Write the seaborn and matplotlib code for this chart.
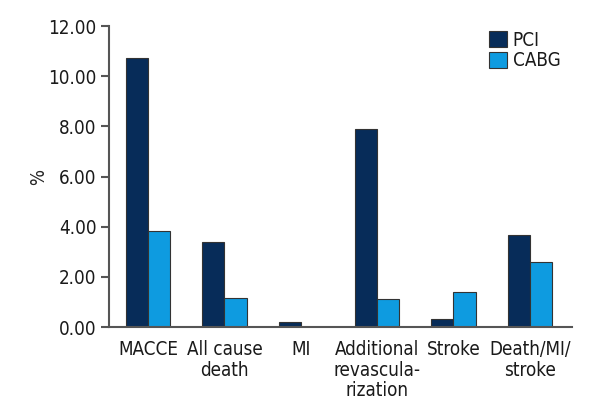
import matplotlib
matplotlib.use("Agg")
import matplotlib.pyplot as plt
import pandas as pd
import seaborn as sns
from matplotlib.ticker import FormatStrFormatter

categories = ["MACCE", "All cause\ndeath", "MI", "Additional\nrevascula-\nrization",
              "Stroke", "Death/MI/\nstroke"]
pci = [10.74, 3.41, 0.21, 7.90, 0.32, 3.69]
cabg = [3.85, 1.18, 0.0, 1.13, 1.39, 2.59]
groups = ["PCI", "CABG"]
colors = ["#072c59", "#0e9be0"]

df = pd.DataFrame({
    "outcome": categories * 2,
    "value": pci + cabg,
    "group": ["PCI"] * len(pci) + ["CABG"] * len(cabg),
})

sns.set_style("white")
plt.rcParams["font.family"] = ["DejaVu Sans"]
plt.rcParams["font.stretch"] = "condensed"
plt.rcParams["text.color"] = "#1a1a1a"
plt.rcParams["xtick.color"] = "#1a1a1a"
plt.rcParams["ytick.color"] = "#1a1a1a"

fig = plt.figure(figsize=(6, 4.2), dpi=100)
ax = fig.add_axes([0.182, 0.221, 0.771, 0.717])
sns.barplot(data=df, x="outcome", y="value", hue="group", hue_order=groups,
            palette=colors, saturation=1, width=0.58, edgecolor="#333333",
            linewidth=0.8, errorbar=None, ax=ax)

ax.set_ylim(0, 12)
ax.set_xlim(-0.51, 5.55)
ax.set_yticks([0, 2, 4, 6, 8, 10, 12])
ax.yaxis.set_major_formatter(FormatStrFormatter("%.2f"))
ax.set_xlabel("")
ax.set_ylabel("%", fontsize=13.5)
ax.yaxis.set_label_coords(-0.133, 0.5)

for s in ["top", "right"]:
    ax.spines[s].set_visible(False)
for s in ["left", "bottom"]:
    ax.spines[s].set_color("#555555")
    ax.spines[s].set_linewidth(1.5)

ax.tick_params(axis="y", left=True, length=6, width=1.5, color="#555555",
               labelsize=13.5, pad=3)
ax.tick_params(axis="x", bottom=False, labelsize=13.5, pad=6)
for lab in ax.get_xticklabels():
    lab.set_linespacing(1.1)

ax.legend(loc="upper left", bbox_to_anchor=(0.805, 1.01), frameon=False,
          fontsize=13.5, handlelength=0.95, handleheight=0.95, handletextpad=0.3,
          labelspacing=0.1, borderaxespad=0)

fig.savefig("out.png", dpi=100)
